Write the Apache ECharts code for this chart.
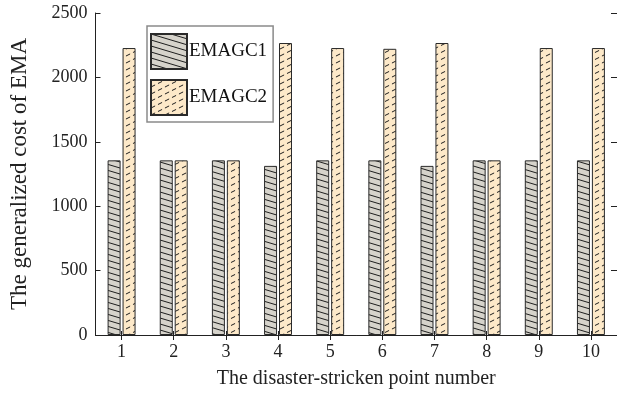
<!DOCTYPE html>
<html>
<head>
<meta charset="utf-8">
<style>
  html, body { margin: 0; padding: 0; background: #fff; }
  #chart { width: 617px; height: 394px; }
</style>
<script src="https://cdn.jsdelivr.net/npm/echarts@6/dist/echarts.min.js"></script>
</head>
<body>
<div id="chart"></div>
<script>
// Generalized cost of EMA per disaster-stricken point
const categories = ['1', '2', '3', '4', '5', '6', '7', '8', '9', '10'];
const emagc1 = [1356, 1356, 1356, 1313, 1356, 1356, 1313, 1356, 1356, 1356];
const emagc2 = [2228, 1356, 1356, 2267, 2228, 2222, 2267, 1356, 2228, 2228];
const seriesNames = ['EMAGC1', 'EMAGC2'];

const FONT = '"Liberation Serif", "Times New Roman", serif';

// Solid hatch: shallow "\" lines on grey
function hatchSolid() {
  const c = document.createElement('canvas');
  c.width = 20; c.height = 6;
  const g = c.getContext('2d');
  g.fillStyle = '#d6d3cb';
  g.fillRect(0, 0, 20, 6);
  g.strokeStyle = '#1e1e1e';
  g.lineWidth = 1;
  for (let k = -1; k <= 1; k++) {
    g.beginPath();
    g.moveTo(0, k * 6);
    g.lineTo(20, k * 6 + 6);
    g.stroke();
  }
  return c;
}

// Dashed hatch: rising "/" dashes on peach
function hatchDashed() {
  const c = document.createElement('canvas');
  c.width = 14; c.height = 7;
  const g = c.getContext('2d');
  g.fillStyle = '#fde9c9';
  g.fillRect(0, 0, 14, 7);
  g.strokeStyle = '#1e1e1e';
  g.lineWidth = 1;
  g.setLineDash([4.6, 3.2]);
  for (let k = -1; k <= 1; k++) {
    g.beginPath();
    g.moveTo(0, 7 + k * 7);
    g.lineTo(14, k * 7);
    g.stroke();
  }
  return c;
}

const chart = echarts.init(document.getElementById('chart'), null, { renderer: 'canvas' });

const axisLine = { show: true, lineStyle: { color: '#222', width: 1 } };

chart.setOption({
  animation: false,
  backgroundColor: '#fff',
  grid: { left: 95.5, top: 13, width: 523.5, height: 325, containLabel: false },
  legend: {
    data: seriesNames,
    orient: 'vertical',
    left: 147,
    top: 26,
    itemWidth: 36,
    itemHeight: 35,
    itemGap: 9,
    padding: [7, 6, 6, 3],
    borderColor: '#8a8a8a',
    borderWidth: 1.5,
    icon: 'rect',
    textStyle: { fontFamily: FONT, fontSize: 19, color: '#111', padding: [0, 0, 0, -3] }
  },
  xAxis: [
    {
      type: 'category',
      data: categories,
      position: 'bottom',
      axisLine: axisLine,
      axisTick: { show: true, inside: true, length: 4, alignWithLabel: true, lineStyle: { color: '#222' } },
      axisLabel: { fontFamily: FONT, fontSize: 18, color: '#222', margin: 8 },
      name: 'The disaster-stricken point number',
      nameLocation: 'middle',
      nameGap: 34,
      nameTextStyle: { fontFamily: FONT, fontSize: 20, color: '#222' },
      splitLine: { show: false }
    },
    {
      type: 'category',
      data: categories,
      position: 'top',
      axisLine: axisLine,
      axisTick: { show: true, inside: true, length: 5, alignWithLabel: true, lineStyle: { color: '#222' } },
      axisLabel: { show: false },
      splitLine: { show: false }
    }
  ],
  yAxis: [
    {
      type: 'value',
      min: 0,
      max: 2500,
      interval: 500,
      position: 'left',
      axisLine: axisLine,
      axisTick: { show: true, inside: true, length: 5, lineStyle: { color: '#222' } },
      axisLabel: { fontFamily: FONT, fontSize: 18, color: '#222', margin: 8, formatter: v => String(v) },
      name: 'The generalized cost of EMA',
      nameLocation: 'middle',
      nameGap: 64,
      nameRotate: 90,
      nameTextStyle: { fontFamily: FONT, fontSize: 23, color: '#222' },
      splitLine: { show: false }
    },
    {
      type: 'value',
      min: 0,
      max: 2500,
      interval: 500,
      position: 'right',
      axisLine: axisLine,
      axisTick: { show: true, inside: true, length: 6, lineStyle: { color: '#222' } },
      axisLabel: { show: false },
      splitLine: { show: false }
    }
  ],
  series: [
    {
      name: seriesNames[0],
      type: 'bar',
      data: emagc1,
      barWidth: 13,
      barGap: '15%',
      itemStyle: { color: { image: hatchSolid(), repeat: 'repeat' }, borderColor: '#2a2a2a', borderWidth: 1 }
    },
    {
      name: seriesNames[1],
      type: 'bar',
      data: emagc2,
      barWidth: 13,
      barGap: '15%',
      itemStyle: { color: { image: hatchDashed(), repeat: 'repeat' }, borderColor: '#2a2a2a', borderWidth: 1 }
    }
  ]
});
</script>
</body>
</html>
